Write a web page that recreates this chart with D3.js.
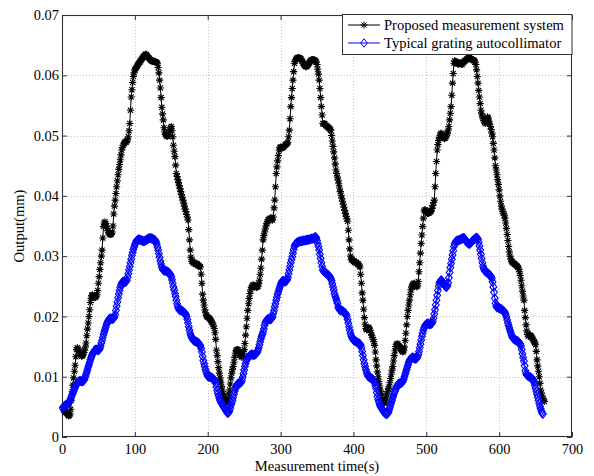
<!DOCTYPE html>
<html>
<head>
<meta charset="utf-8">
<script src="https://cdn.jsdelivr.net/npm/d3@7"></script>
<style>
  body { margin: 0; background: #fff; }
  svg { display: block; }
  text { font-family: "Liberation Serif", "Times New Roman", serif; fill: #000; }
</style>
</head>
<body>
<svg id="chart" width="594" height="476"></svg>
<script>
// Output readings in micrometres, one reading per second.
const proposedStart = 2;   // time of first reading, s
const typicalStart = 1;    // time of first reading, s

const proposedUm = [
  4.5,4.4,4.2,4.1,4.0,3.9,3.7,3.5,3.6,3.8, 4.6,6.1,7.5,8.6,9.8,10.9,11.9,13.3,14.5,14.8,
  14.6,14.3,14.1,13.8,13.6,13.4,13.5,13.6,14.0,14.4, 14.9,15.6,16.8,17.9,18.9,20.0,21.1,22.3,23.0,23.5,
  23.6,23.4,23.2,23.1,23.2,23.4,23.6,24.3,25.5,26.6, 27.8,28.9,30.0,31.0,33.0,34.9,35.5,35.7,35.4,35.0,
  34.6,34.2,33.9,33.7,33.6,33.6,33.7,34.0,35.0,37.0, 38.3,39.3,40.4,41.5,42.5,43.5,44.4,45.2,46.0,46.8,
  47.6,48.0,48.4,48.6,48.8,49.0,48.9,49.1,49.3,49.8, 50.8,52.0,54.2,56.4,57.6,58.8,59.8,60.4,60.9,61.1,
  61.3,61.5,61.7,61.9,62.1,62.2,62.4,62.6,62.8,63.0, 63.1,63.3,63.4,63.5,63.4,63.2,63.0,62.9,62.8,62.6,
  62.5,62.4,62.3,62.4,62.3,62.3,62.2,62.2,62.1,62.0, 61.3,60.4,59.2,57.9,56.3,54.7,53.6,52.6,51.3,50.6,
  50.2,50.0,49.9,49.9,50.1,50.5,50.9,51.3,51.5,50.8, 49.8,48.4,47.4,46.5,45.1,43.7,43.2,42.7,42.2,41.7,
  41.2,40.7,40.2,39.7,39.3,38.8,38.3,37.8,37.4,36.9, 36.5,36.0,34.4,32.7,31.0,29.8,29.1,29.2,29.0,28.8,
  28.9,28.7,28.6,28.8,28.6,28.4,28.5,28.3,28.2,27.0, 25.5,23.7,22.7,21.9,21.1,20.6,20.2,20.0,19.9,19.8,
  19.7,19.6,19.4,19.2,19.0,18.7,18.4,18.0,17.3,16.2, 14.4,13.5,12.5,11.5,10.6,9.8,9.1,8.4,7.8,7.2,
  6.8,6.4,6.0,5.8,5.6,5.9,6.4,7.1,7.8,8.8, 9.8,10.6,11.2,11.7,12.4,13.2,13.9,14.3,14.5,14.5,
  14.4,14.1,13.8,13.5,13.3,13.3,13.5,13.9,14.5,15.5, 16.9,18.3,19.7,21.0,22.1,23.0,23.8,24.4,24.8,25.0,
  25.2,25.2,25.1,25.0,24.9,24.8,24.9,25.0,25.4,26.0, 27.0,28.0,29.5,31.0,32.7,33.4,34.0,34.5,35.0,35.4,
  35.7,36.0,36.1,36.2,36.3,36.2,36.0,36.0,36.5,38.0, 39.3,41.5,43.7,44.8,45.8,46.7,47.6,48.0,48.1,48.0,
  47.9,48.0,48.1,48.2,48.4,48.5,48.6,48.7,48.9,49.8, 50.9,52.8,54.8,56.3,57.8,59.2,60.6,62.0,62.3,62.6,
  62.8,62.9,62.9,62.9,62.9,62.8,62.7,62.5,62.3,62.0, 61.8,61.6,61.5,61.4,61.5,61.6,61.8,62.0,62.2,62.4,
  62.5,62.6,62.6,62.6,62.5,62.5,62.4,62.2,61.8,61.0, 60.2,59.2,57.8,56.3,54.8,53.4,52.0,51.9,52.0,51.9,
  51.7,51.6,51.5,51.4,51.3,51.2,51.0,50.9,50.0,49.1, 48.2,47.3,46.3,45.3,44.3,43.7,43.1,42.6,42.0,41.3,
  40.7,40.1,39.6,39.1,38.6,38.1,37.6,37.1,36.6,36.2, 35.8,34.3,32.7,31.2,30.0,29.4,29.5,29.3,29.1,29.2,
  29.0,28.9,29.0,28.8,28.6,28.7,28.4,28.2,27.0,25.5, 23.9,22.7,21.2,19.8,18.7,18.0,17.8,17.9,18.1,18.2,
  18.0,17.7,17.3,16.9,16.5,16.2,15.8,15.2,14.1,12.8, 11.8,10.8,10.0,9.2,8.5,7.8,7.2,6.6,6.1,5.8,
  5.6,5.7,6.0,6.5,7.1,7.6,8.0,8.3,9.0,9.7, 10.4,11.1,11.7,12.6,13.5,14.3,15.0,15.3,15.5,15.4,
  15.2,15.0,14.8,14.6,14.4,14.2,14.1,14.3,14.9,16.0, 17.2,18.6,20.0,21.0,21.9,22.7,23.6,24.4,24.9,25.2,
  25.4,25.5,25.4,25.2,25.0,24.9,25.1,25.8,27.4,28.9, 30.5,32.1,33.5,34.9,36.3,37.5,37.7,37.6,37.4,37.2,
  37.1,37.1,37.2,37.3,37.4,37.6,37.9,38.4,38.9,39.3, 41.5,43.7,45.7,47.6,48.5,49.2,49.7,50.1,50.4,50.3,
  50.1,49.8,49.6,49.5,49.6,49.8,50.1,50.4,50.9,51.5, 52.6,53.7,54.8,56.7,58.7,60.3,62.0,62.4,62.3,62.2,
  62.0,61.9,61.9,62.0,62.1,62.0,61.8,61.8,62.0,62.2, 62.3,62.4,62.5,62.6,62.7,62.8,62.9,62.9,62.8,62.7,
  62.6,62.6,62.6,62.5,62.4,62.2,61.8,60.9,59.8,58.7, 57.5,56.4,55.3,54.2,53.6,53.1,52.8,52.5,52.2,52.0,
  52.3,52.8,53.1,52.9,52.4,51.9,51.5,51.0,50.4,49.8, 48.7,47.6,46.3,45.0,44.3,43.5,42.7,41.9,41.0,40.0,
  39.1,38.3,37.8,37.4,37.1,36.8,36.3,35.5,34.6,33.6, 32.6,31.6,30.7,30.0,29.5,29.2,29.0,28.9,28.8,28.7,
  28.6,28.5,28.4,28.3,28.1,27.8,27.4,26.8,26.0,25.1, 24.2,23.4,22.7,21.0,19.8,18.6,17.6,17.0,16.7,16.8,
  16.9,16.9,16.7,16.5,16.3,16.0,15.8,15.6,15.3,14.2, 12.8,11.8,10.9,10.0,8.9,7.8,7.3,6.8,6.4,6.1,5.9
];

const typicalUm = [
  4.8,5.0,5.1,5.2,5.3,5.3,5.4,5.5,5.6,5.8, 6.1,6.4,6.7,7.0,7.3,7.6,7.9,8.2,8.5,8.7,
  8.9,9.1,9.2,9.3,9.3,9.3,9.2,9.2,9.3,9.4, 9.6,10.0,10.4,10.8,11.2,11.6,12.0,12.4,12.8,13.2,
  13.5,13.8,14.0,14.2,14.4,14.5,14.5,14.5,14.4,14.4, 14.5,14.7,15.1,15.6,16.0,16.5,17.0,17.4,17.8,18.2,
  18.6,18.9,19.2,19.4,19.6,19.7,19.7,19.6,19.6,19.6, 19.7,19.9,20.3,21.0,21.7,22.4,23.1,23.7,24.3,24.8,
  25.2,25.5,25.7,25.8,25.8,25.7,25.7,25.8,26.0,26.5, 27.1,27.7,28.3,28.9,29.5,30.1,30.6,31.1,31.5,31.9,
  32.2,32.5,32.6,32.7,32.8,32.8,32.7,32.7,32.6,32.6, 32.5,32.5,32.5,32.6,32.6,32.7,32.8,32.9,32.9,33.0,
  33.0,33.0,32.9,32.9,32.8,32.7,32.7,32.6,32.4,32.0, 31.5,31.0,30.4,29.8,29.2,28.7,28.2,27.9,27.7,27.6,
  27.6,27.6,27.5,27.5,27.4,27.3,27.2,27.1,26.9,26.6, 26.1,25.5,24.9,24.4,23.8,23.3,22.7,22.1,21.6,21.3,
  21.1,21.0,21.0,21.0,20.9,20.8,20.7,20.6,20.5,20.3, 20.0,19.5,18.9,18.3,17.7,17.2,16.8,16.5,16.3,16.1,
  16.0,15.9,15.9,15.8,15.8,15.7,15.6,15.5,15.3,15.1, 14.7,14.1,13.4,12.7,12.2,11.7,11.2,10.8,10.4,10.1,
  10.0,10.0,10.0,9.9,9.9,9.8,9.7,9.6,9.5,9.3, 8.9,8.3,7.7,7.2,6.8,6.4,6.1,5.8,5.6,5.4,
  5.2,5.0,4.8,4.6,4.4,4.2,4.0,4.0,4.1,4.4, 4.8,5.3,5.7,6.1,6.6,7.1,7.6,8.0,8.3,8.6,
  8.8,8.9,8.9,8.9,9.0,9.1,9.4,9.9,10.5,11.1, 11.7,12.2,12.6,12.9,13.1,13.3,13.4,13.5,13.6,13.7,
  13.7,13.6,13.6,13.6,13.7,13.8,13.9,14.1,14.4,14.8, 15.3,15.8,16.3,16.7,17.0,17.4,17.9,18.5,18.9,19.2,
  19.4,19.5,19.6,19.6,19.5,19.5,19.6,19.7,20.0,20.5, 21.0,21.6,22.1,22.7,23.2,23.7,24.1,24.5,24.9,25.3,
  25.6,25.8,25.9,25.9,25.8,25.8,25.8,25.9,26.1,26.5, 27.1,27.7,28.3,28.9,29.4,29.9,30.5,31.1,31.6,31.9,
  32.1,32.2,32.3,32.3,32.4,32.4,32.5,32.5,32.5,32.5, 32.6,32.6,32.6,32.6,32.7,32.7,32.7,32.7,32.8,32.8,
  32.8,32.9,32.9,32.9,33.0,33.0,33.1,33.2,33.0,32.6, 32.1,31.6,31.0,30.3,29.6,28.9,28.3,27.7,27.5,27.4,
  27.3,27.2,27.1,27.0,26.9,26.8,26.7,26.5,26.3,25.9, 25.4,24.9,24.4,23.8,23.4,23.0,22.6,22.2,21.6,21.3,
  21.1,21.0,21.0,21.0,20.9,20.8,20.7,20.6,20.5,20.3, 20.0,19.5,18.9,18.3,17.7,17.2,16.8,16.5,16.3,16.1,
  16.0,15.9,15.9,15.8,15.7,15.6,15.6,15.5,15.4,15.2, 14.8,14.2,13.5,12.8,12.2,11.7,11.2,10.8,10.4,10.1,
  10.0,9.9,9.9,9.8,9.7,9.6,9.5,9.3,9.0,8.6, 8.1,7.4,6.7,6.2,5.8,5.4,5.1,4.9,4.7,4.5,
  4.3,4.1,4.0,3.9,3.8,3.8,3.9,4.1,4.5,4.9, 5.3,5.7,6.1,6.5,6.9,7.3,7.6,7.9,8.2,8.5,
  8.7,8.8,8.9,8.9,8.9,9.0,9.1,9.3,9.6,10.0, 10.4,10.8,11.2,11.6,12.0,12.4,12.7,12.9,13.0,13.1,
  13.2,13.2,13.1,13.0,13.0,13.0,13.1,13.3,13.7,14.2, 14.8,15.4,16.1,16.7,17.2,17.7,18.1,18.4,18.6,18.7,
  18.8,18.8,18.8,18.7,18.7,18.7,18.8,18.9,19.2,19.7, 20.4,21.1,21.9,22.7,23.5,24.3,25.0,25.5,25.8,26.0,
  26.0,25.8,25.6,25.4,25.2,25.0,24.9,24.9,25.1,25.6, 26.4,27.3,28.1,28.8,29.5,30.2,30.9,31.6,32.0,32.3,
  32.5,32.6,32.6,32.6,32.7,32.7,32.8,32.8,32.9,33.0, 33.0,33.0,32.8,32.6,32.4,32.3,32.2,32.1,32.0,32.1,
  32.2,32.3,32.5,32.6,32.7,32.8,32.9,33.0,33.1,33.0, 32.8,32.3,31.7,31.0,30.3,29.6,28.9,28.3,27.9,27.6,
  27.5,27.4,27.3,27.2,27.1,27.0,26.9,26.8,26.6,26.3, 25.7,24.9,24.0,23.0,22.2,21.7,21.5,21.5,21.4,21.4,
  21.3,21.3,21.2,21.1,21.0,20.9,20.8,20.6,20.3,19.9, 19.4,18.9,18.5,18.1,17.7,17.3,16.9,16.6,16.4,16.3,
  16.2,16.1,16.0,16.0,15.9,15.8,15.7,15.6,15.4,15.1, 14.5,13.8,13.2,12.6,11.8,11.0,10.5,10.3,10.2,10.1,
  10.0,10.0,9.9,9.8,9.7,9.6,9.4,9.1,8.6,8.1, 7.6,7.1,6.6,6.1,5.6,5.1,4.7,4.3,4.0,3.8
];

const xTicks = [0, 100, 200, 300, 400, 500, 600, 700];
const yTicks = [0, 0.01, 0.02, 0.03, 0.04, 0.05, 0.06, 0.07];
const yTickLabels = ["0", "0.01", "0.02", "0.03", "0.04", "0.05", "0.06", "0.07"];
const seriesNames = ["Proposed measurement system", "Typical grating autocollimator"];
const seriesColors = ["#000000", "#0000ff"];
const xTitle = "Measurement time(s)";
const yTitle = "Output(mm)";

const FONT = '"Liberation Serif", "Times New Roman", serif';
const svg = d3.select("#chart");
const plot = { left: 62, right: 572, top: 15, bottom: 437 };

const x = d3.scaleLinear().domain([0, 700]).range([plot.left, plot.right]);
const y = d3.scaleLinear().domain([0, 0.07]).range([plot.bottom, plot.top]);

const toPoints = (start, arr) => arr.map((v, i) => ({ t: start + i, v: v / 1000 }));
const proposed = toPoints(proposedStart, proposedUm);
const typical = toPoints(typicalStart, typicalUm);

// dotted grid
const grid = svg.append("g").attr("class", "grid");
grid.selectAll("line.gx").data(xTicks.slice(1, -1)).join("line")
  .attr("x1", d => Math.round(x(d)) + 0.5).attr("x2", d => Math.round(x(d)) + 0.5)
  .attr("y1", plot.top).attr("y2", plot.bottom);
grid.selectAll("line.gy").data(yTicks.slice(1, -1)).join("line")
  .attr("y1", d => Math.round(y(d)) + 0.5).attr("y2", d => Math.round(y(d)) + 0.5)
  .attr("x1", plot.left).attr("x2", plot.right);
grid.selectAll("line").attr("stroke", "#c4c4c4").attr("stroke-width", 1)
  .attr("stroke-dasharray", "1,2");

// axes with inward ticks on all four sides
const H = plot.bottom - plot.top, W = plot.right - plot.left;
const axB = svg.append("g").attr("transform", `translate(0,${plot.bottom})`)
  .call(d3.axisBottom(x).tickValues(xTicks).tickSize(-5).tickPadding(7).tickFormat(d3.format("d")));
const axT = svg.append("g").attr("transform", `translate(0,${plot.top})`)
  .call(d3.axisTop(x).tickValues(xTicks).tickSize(-5).tickFormat(""));
const axL = svg.append("g").attr("transform", `translate(${plot.left},0)`)
  .call(d3.axisLeft(y).tickValues(yTicks).tickSize(-5).tickPadding(3)
    .tickFormat((d, i) => yTickLabels[i]));
const axR = svg.append("g").attr("transform", `translate(${plot.right},0)`)
  .call(d3.axisRight(y).tickValues(yTicks).tickSize(-5).tickFormat(""));
[axB, axT, axL, axR].forEach(a => {
  a.select(".domain").remove();
  a.selectAll(".tick line").attr("stroke", "#333");
  a.selectAll("text").attr("font-size", "14.4px").attr("fill", "#000")
    .attr("font-family", FONT);
});

// frame
svg.append("rect")
  .attr("x", plot.left + 0.5).attr("y", plot.top + 0.5)
  .attr("width", W - 1).attr("height", H - 1)
  .attr("fill", "none").attr("stroke", "#333").attr("stroke-width", 1.1);

// markers: asterisk for the proposed system, open diamond for the autocollimator
const r = 3.6, dd = r * 0.72;
const starPath = `M${-r},0L${r},0M0,${-r}L0,${r}M${-dd},${-dd}L${dd},${dd}M${-dd},${dd}L${dd},${-dd}`;
const diamondPath = "M0,-4.2L3.4,0L0,4.2L-3.4,0Z";

const line = d3.line().x(p => x(p.t)).y(p => y(p.v));

function drawSeries(data, color, markerPath, cls) {
  const g = svg.append("g").attr("class", cls);
  g.append("path").datum(data).attr("d", line)
    .attr("fill", "none").attr("stroke", color).attr("stroke-width", 1);
  g.selectAll("path.m").data(data).join("path").attr("class", "m")
    .attr("transform", p => `translate(${x(p.t)},${y(p.v)})`)
    .attr("d", markerPath)
    .attr("fill", "none").attr("stroke", color).attr("stroke-width", 1.1);
}
drawSeries(proposed, seriesColors[0], starPath, "proposed");
drawSeries(typical, seriesColors[1], diamondPath, "typical");

// axis titles
svg.append("text").attr("x", (plot.left + plot.right) / 2).attr("y", 471)
  .attr("text-anchor", "middle").attr("font-size", "14.6px").attr("font-family", FONT).text(xTitle);
svg.append("text").attr("transform", `translate(24,${(plot.top + plot.bottom) / 2}) rotate(-90)`)
  .attr("text-anchor", "middle").attr("font-size", "14.6px").attr("font-family", FONT).text(yTitle);

// legend
const lg = svg.append("g").attr("class", "legend");
lg.append("rect").attr("x", 342.5).attr("y", 14.5).attr("width", 229.5).attr("height", 40)
  .attr("fill", "#fff").attr("stroke", "#333").attr("stroke-width", 1);
seriesNames.forEach((name, i) => {
  const cy = 25 + i * 18;
  lg.append("line").attr("x1", 348).attr("x2", 380).attr("y1", cy).attr("y2", cy)
    .attr("stroke", seriesColors[i]).attr("stroke-width", 1);
  lg.append("path").attr("transform", `translate(364,${cy})`)
    .attr("d", i === 0 ? starPath : diamondPath)
    .attr("fill", "none").attr("stroke", seriesColors[i]).attr("stroke-width", 1);
  lg.append("text").attr("x", 384).attr("y", cy + 5).attr("font-size", "14.6px")
    .attr("font-family", FONT).text(name);
});
</script>
</body>
</html>
